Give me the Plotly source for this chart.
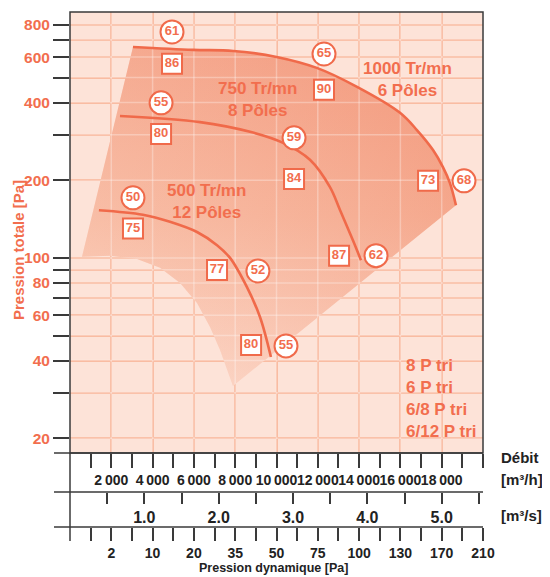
import numpy as np
import plotly.graph_objects as go

# ---- data (flow in m3/h, total pressure in Pa) ----
q_1000 = [3050, 5950, 7900, 10000, 11950, 13900, 15980, 16800, 17580, 18060, 18400, 18690]
p_1000 = [657, 640, 634, 601, 545, 460, 365, 313, 262, 225, 195, 160]
q_750 = [2420, 6300, 8720, 10320, 11620, 12590, 13080, 13700, 14090]
p_750 = [355, 336, 308, 279, 240, 188, 153, 117, 98]
q_500 = [1400, 3530, 4840, 6150, 7120, 7750, 8570, 9200, 9730]
p_500 = [153, 147, 138, 126, 112, 100, 77, 59, 41.3]

# lower-left boundary of the operating zone (the top edge is the 1000 curve)
zone_q = [3050, 580, 1940, 3245, 4360, 5330, 6150, 6780, 7265, 7650, 7890]
zone_p = [657, 101, 102, 99.1, 91.5, 80.0, 66.9, 54.0, 44.0, 35.8, 31.9]

circ_q = [4940, 4410, 3050, 12300, 10850, 19080, 14820, 9100, 10460]
circ_p = [751, 399, 171, 617, 292, 199, 102, 89, 45.6]
circ_txt = ["61", "55", "50", "65", "59", "68", "62", "52", "55"]

box_q = [4940, 4410, 3050, 12300, 10850, 17340, 13030, 7120, 8770]
box_p = [565, 302, 130, 448, 202, 199, 102, 89.8, 46]
box_txt = ["86", "80", "75", "90", "84", "73", "87", "77", "80"]

speed_txt = ["1000 Tr/mn<br>6 Pôles", "750 Tr/mn<br>8 Pôles", "500 Tr/mn<br>12 Pôles"]
speed_q = [16320, 9060, 6590]
speed_p = [490, 410, 166]

motors = ["8 P tri", "6 P tri", "6/8 P tri", "6/12 P tri"]

flow_ticks = list(range(2000, 20001, 2000))
flow_text = ["2\u2009000", "4\u2009000", "6\u2009000", "8\u2009000", "10\u2009000",
             "12\u2009000", "14\u2009000", "16\u2009000", "18\u2009000", ""]
ms_ticks = [1, 2, 3, 4, 5]
ms_text = ["1.0", "2.0", "3.0", "4.0", "5.0"]
pd_text = ["2", "10", "20", "35", "50", "75", "100", "130", "170", "210"]
p_ticks = [20, 30, 40, 50, 60, 70, 80, 90, 100, 200, 300, 400, 500, 600, 700, 800]
p_text = ["20", "", "40", "", "60", "", "80", "", "100", "200", "", "400", "", "600", "", "800"]

# ---- styling ----
SALMON = "#f06a4a"
TXT = "#f26e4e"
BG = "#fde3d8"
DARK = "#3a3a3a"
FONT = "Liberation Sans"
Q_MAX = 20000
Y_RANGE = [1.244, 2.953]

# page body adds an 8px offset, so the figure is drawn 8px smaller
W, H, T, BM, LM = 542, 569, 4, 30, 62
PH = H - T - BM


def py(y):  # reference pixel row -> paper fraction
    return (547 - y) / PH


def px(x):  # reference pixel column -> paper fraction
    return (x - 70) / 413


fig = go.Figure()

zq = zone_q + q_1000[::-1]
zp = zone_p + p_1000[::-1]
fig.add_trace(go.Scatter(x=zq, y=zp, mode="lines", fill="toself", line=dict(width=0),
                         fillgradient=dict(type="vertical",
                                           colorscale=[[0, "#fcd9c9"], [0.5, "#f7b69c"],
                                                       [1, "#f4a084"]]),
                         hoverinfo="skip", showlegend=False))
fig.add_trace(go.Scatter(x=zq, y=zp, mode="lines", fill="toself", line=dict(width=0),
                         fillgradient=dict(type="horizontal",
                                           colorscale=[[0, "rgba(253,226,214,0.18)"],
                                                       [1, "rgba(238,120,90,0.22)"]]),
                         hoverinfo="skip", showlegend=False))

# lighter grid over the shaded zone
gx, gy = [], []
p_lo, p_hi = 10 ** Y_RANGE[0], 10 ** Y_RANGE[1]
for v in flow_ticks:
    gx += [v, v, None]
    gy += [p_lo, p_hi, None]
for v in p_ticks:
    gx += [0, Q_MAX, None]
    gy += [v, v, None]
fig.add_trace(go.Scatter(x=gx, y=gy, mode="lines", line=dict(color="rgba(255,255,255,0.3)", width=1.5),
                         hoverinfo="skip", showlegend=False))

for q, p in [(q_1000, p_1000), (q_750, p_750), (q_500, p_500)]:
    fig.add_trace(go.Scatter(x=q, y=p, mode="lines", line=dict(color=SALMON, width=2.6, shape="spline"),
                             hoverinfo="skip", showlegend=False))

fig.add_trace(go.Scatter(x=circ_q, y=circ_p, mode="markers+text", text=circ_txt,
                         textposition="middle center",
                         textfont=dict(family=FONT, size=13, color=TXT, weight="bold"),
                         marker=dict(symbol="circle", size=23, color="white",
                                     line=dict(color=SALMON, width=2)),
                         hoverinfo="skip", showlegend=False))
fig.add_trace(go.Scatter(x=box_q, y=box_p, mode="markers+text", text=box_txt,
                         textposition="middle center",
                         textfont=dict(family=FONT, size=13, color=TXT, weight="bold"),
                         marker=dict(symbol="square", size=20, color="white",
                                     line=dict(color=SALMON, width=2)),
                         hoverinfo="skip", showlegend=False))

# carriers for the secondary scales
fig.add_trace(go.Scatter(x=[0, Q_MAX / 3600], y=[100, 100], xaxis="x2", mode="markers",
                         marker=dict(opacity=0), hoverinfo="skip", showlegend=False))
fig.add_trace(go.Scatter(x=[0, Q_MAX], y=[100, 100], xaxis="x3", mode="markers",
                         marker=dict(opacity=0), hoverinfo="skip", showlegend=False))

for t, q, p in zip(speed_txt, speed_q, speed_p):
    fig.add_annotation(x=q, y=np.log10(p), text=t, showarrow=False,
                       xanchor="center", yanchor="middle",
                       font=dict(family=FONT, size=17, color=TXT, weight="bold"))

fig.add_annotation(x=px(404), y=py(398), xref="paper", yref="paper", xanchor="left",
                   yanchor="middle", align="left", text="<br>".join(motors), showarrow=False,
                   font=dict(family=FONT, size=17, color=TXT, weight="bold"))

fig.add_annotation(x=px(18), y=py(250), xref="paper", yref="paper", text="Pression totale [Pa]",
                   textangle=-90, showarrow=False, xanchor="center", yanchor="middle",
                   font=dict(family=FONT, size=15, color=TXT, weight="bold"))
for t, y in [("Débit", 457), ("[m³/h]", 479), ("[m³/s]", 515)]:
    fig.add_annotation(x=px(499), y=py(y), xref="paper", yref="paper", xanchor="left",
                       yanchor="middle", text=t, showarrow=False,
                       font=dict(family=FONT, size=15, color="#222", weight="bold"))
fig.add_annotation(x=px(273), y=py(568), xref="paper", yref="paper", text="Pression dynamique [Pa]",
                   showarrow=False, xanchor="center", yanchor="middle",
                   font=dict(family=FONT, size=12.5, color="#222", weight="bold"))

# frame and scale rows
fig.add_shape(type="rect", xref="x domain", yref="y domain", x0=0, x1=1, y0=0, y1=1,
              line=dict(color=DARK, width=1.5), layer="above")
fig.add_shape(type="line", xref="paper", yref="paper", x0=0, x1=0, y0=py(541), y1=py(453),
              line=dict(color=DARK, width=1.5))
for y in [453, 492, 527]:
    fig.add_shape(type="line", xref="paper", yref="paper", x0=px(54), x1=1, y0=py(y), y1=py(y),
                  line=dict(color=DARK, width=1.5))

tick_common = dict(ticks="outside", tickcolor=DARK, tickwidth=1.5, showline=False,
                   zeroline=False, tickangle=0)
odd_k = list(range(1000, 20000, 2000))

fig.update_layout(
    width=W, height=H,
    margin=dict(l=LM, r=67, t=T, b=BM),
    paper_bgcolor="white", plot_bgcolor=BG,
    font=dict(family=FONT),
    xaxis=dict(range=[0, Q_MAX], domain=[0, 1], anchor="y", tickmode="array",
               tickvals=flow_ticks, ticktext=flow_text, ticklen=14,
               tickfont=dict(size=14, color="#222", weight="bold"),
               showgrid=True, gridcolor="#f9b79b", gridwidth=1.5,
               minor=dict(tickvals=odd_k, ticks="outside", ticklen=14, tickcolor=DARK,
                          tickwidth=1.5, showgrid=False),
               **tick_common),
    xaxis2=dict(range=[0, Q_MAX / 3600], overlaying="x", anchor="free", position=py(492),
                side="bottom", tickmode="array", tickvals=ms_ticks, ticktext=ms_text, ticklen=11,
                tickfont=dict(size=16, color="#222", weight="bold"), showgrid=False,
                minor=dict(tickvals=[0.5, 1.5, 2.5, 3.5, 4.5, 5.5], ticks="outside", ticklen=11,
                           tickcolor=DARK, tickwidth=1.5, showgrid=False),
                **tick_common),
    xaxis3=dict(range=[0, Q_MAX], overlaying="x", anchor="free", position=py(527),
                side="bottom", tickmode="array", tickvals=flow_ticks, ticktext=pd_text, ticklen=13,
                tickfont=dict(size=14, color="#222", weight="bold"), showgrid=False,
                minor=dict(tickvals=odd_k, ticks="outside", ticklen=13, tickcolor=DARK,
                           tickwidth=1.5, showgrid=False),
                **tick_common),
    yaxis=dict(type="log", range=Y_RANGE, domain=[py(453), 1], tickmode="array",
               tickvals=p_ticks, ticktext=p_text, ticklen=16,
               tickfont=dict(size=15.5, color=TXT, weight="bold"),
               showgrid=True, gridcolor="#f9b79b", gridwidth=1.5,
               zeroline=False, ticks="outside", tickcolor=DARK, tickwidth=1.5, showline=False),
)

fig.write_html("out.html")
